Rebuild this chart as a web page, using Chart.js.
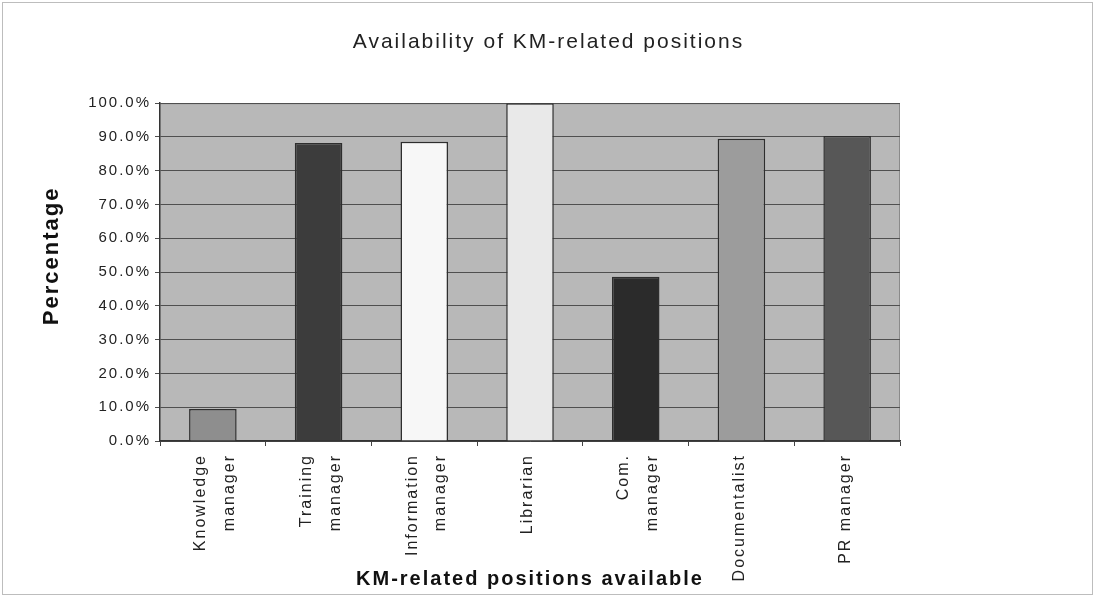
<!DOCTYPE html>
<html>
<head>
<meta charset="utf-8">
<script src="https://cdn.jsdelivr.net/npm/chart.js@4/dist/chart.umd.min.js"></script>
<style>
html,body{margin:0;padding:0;background:#fff;}
#wrap{width:1095px;height:597px;position:relative;}
</style>
</head>
<body>
<div id="wrap"><canvas id="c" width="1095" height="597"></canvas></div>
<script>
const categories = [["Knowledge","manager"],["Training","manager"],["Information","manager"],"Librarian",["Com.","manager"],"Documentalist","PR manager"];
const percentages = [9.5, 88.2, 88.6, 100.0, 48.6, 89.5, 90.3];
const barColors = ['#8e8e8e','#3c3c3c','#f7f7f7','#e9e9e9','#2b2b2b','#9c9c9c','#575757'];
const chartTitle = 'Availability of KM-related positions';
const yTitle = '    Percentage';
const xTitle = 'KM-related positions available';

const FONT = 'Liberation Sans, Arial, sans-serif';
const SPACING = '2px';

const spacingPlugin = {
  id: 'spacing',
  beforeUpdate(chart) { chart.ctx.letterSpacing = SPACING; },
  beforeLayout(chart) { chart.ctx.letterSpacing = SPACING; },
  beforeDraw(chart) { chart.ctx.letterSpacing = SPACING; }
};

const bgPlugin = {
  id: 'bg',
  beforeDraw(chart) {
    const {ctx, chartArea: a} = chart;
    ctx.save();
    ctx.strokeStyle = '#bdbdbd';
    ctx.lineWidth = 1;
    ctx.strokeRect(2.5, 2.5, chart.width - 5, chart.height - 5);
    ctx.fillStyle = '#b8b8b8';
    ctx.fillRect(a.left, a.top, a.right - a.left, a.bottom - a.top);
    ctx.strokeStyle = '#8a8a8a';
    ctx.beginPath();
    ctx.moveTo(a.left, a.top + 0.5); ctx.lineTo(a.right, a.top + 0.5);
    ctx.moveTo(a.right - 0.5, a.top); ctx.lineTo(a.right - 0.5, a.bottom);
    ctx.stroke();
    ctx.restore();
  }
};

const isMulti = i => Array.isArray(categories[i]);

new Chart(document.getElementById('c'), {
  type: 'bar',
  data: {
    labels: categories,
    datasets: [{
      data: percentages,
      backgroundColor: barColors,
      borderColor: '#2e2e2e',
      borderWidth: 1.5,
      barPercentage: 0.45,
      categoryPercentage: 1.0,
      yAxisID: 'y'
    }]
  },
  options: {
    responsive: false,
    animation: false,
    layout: { padding: { left: 39, right: 37, top: 30, bottom: 6 } },
    plugins: {
      legend: { display: false },
      tooltip: { enabled: false },
      title: {
        display: true,
        text: chartTitle,
        color: '#222',
        font: { family: FONT, size: 21, weight: 'normal', lineHeight: 1.2 },
        padding: { top: 0, bottom: 48 }
      }
    },
    scales: {
      x: {
        offset: true,
        grid: { display: true, drawOnChartArea: false, drawTicks: true, tickLength: 5, color: '#444', offset: true },
        border: { display: true, color: '#333', width: 1.5 },
        ticks: {
          minRotation: 90, maxRotation: 90,
          color: '#222',
          padding: 8,
          labelOffset: -12,
          showLabelBackdrop: ctx => !isMulti(ctx.index),
          backdropColor: 'rgba(0,0,0,0)',
          backdropPadding: 0,
          font: ctx => ({ family: FONT, size: 16, lineHeight: isMulti(ctx.index) ? 1.8 : 1.25 })
        },
        title: {
          display: true,
          text: xTitle,
          color: '#111',
          padding: { top: 0, bottom: 0 },
          font: { family: FONT, size: 20, weight: 'bold' }
        },
        afterFit(scale) { scale.height = 597 - 6 - 441; }
      },
      y: {
        position: 'left',
        min: 0, max: 100,
        ticks: {
          stepSize: 10,
          color: '#222',
          padding: 4,
          font: { family: FONT, size: 15 },
          callback: v => v.toFixed(1) + '%'
        },
        grid: { color: '#4f4f4f', lineWidth: 1, tickLength: 5, drawTicks: true },
        border: { display: true, color: '#333', width: 1.5 },
        title: {
          display: true,
          text: yTitle,
          color: '#111',
          padding: 0,
          font: { family: FONT, size: 22, weight: 'bold' }
        },
        afterFit(scale) { scale.width = 160 - 39; }
      },
      yR: {
        position: 'right',
        display: true,
        ticks: { display: false },
        grid: { display: false },
        border: { display: false },
        afterFit(scale) { scale.width = 1095 - 37 - 900; }
      }
    }
  },
  plugins: [spacingPlugin, bgPlugin]
});
</script>
</body>
</html>
